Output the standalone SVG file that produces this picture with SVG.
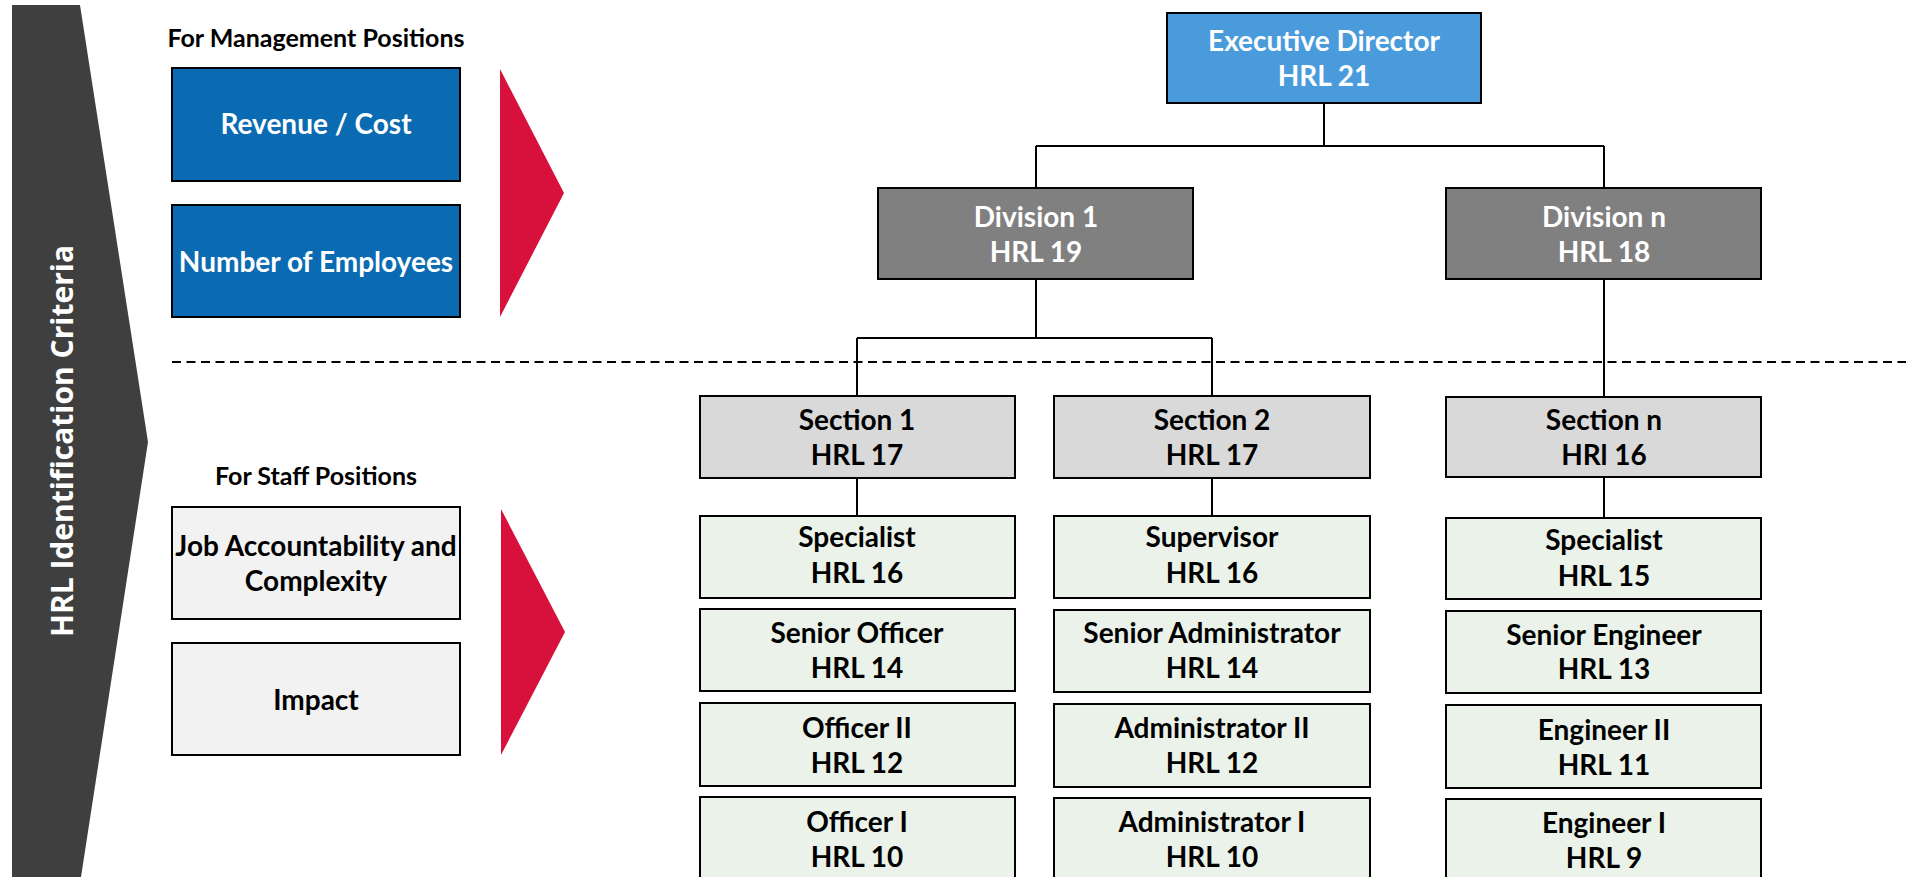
<svg xmlns="http://www.w3.org/2000/svg" width="1906" height="877" viewBox="0 0 1906 877">
  <style>
    .t { font-family: Lato, "Liberation Sans", sans-serif; font-weight: bold; font-size: 28px; text-anchor: middle; }
    .w { fill: #ffffff; }
    .k { fill: #000000; }
    .hd { font-family: Lato, "Liberation Sans", sans-serif; font-weight: bold; font-size: 25px; text-anchor: middle; fill: #000000; }
    .box { stroke: #000000; stroke-width: 2; }
    .exec { fill: #4A9BDC; }
    .div { fill: #808080; }
    .sec { fill: #D9D9D9; }
    .staff { fill: #EAF2E9; }
    .crit { fill: #0B6BB2; }
    .crit2 { fill: #F2F2F2; }
    .arrow { fill: #D7103C; }
    .conn { fill: none; stroke: #000000; stroke-width: 2; }
  </style>

  <!-- side band with rotated title -->
  <g id="side-band">
    <polygon points="12,5 80,5 148,442 81,877 12,877" fill="#3F3F3F"/>
    <text transform="translate(73,441) rotate(-90)" font-family="'Open Sans', 'Liberation Sans', sans-serif" font-weight="bold" font-size="30" text-anchor="middle" fill="#ffffff">HRL Identification Criteria</text>
  </g>

  <!-- management criteria -->
  <g id="mgmt-criteria">
    <text class="hd" x="316" y="47">For Management Positions</text>
    <g id="crit-revenue">
      <rect class="box crit" x="172" y="68" width="288" height="113"/>
      <text class="t w" x="316" y="134">Revenue / Cost</text>
    </g>
    <g id="crit-employees">
      <rect class="box crit" x="172" y="205" width="288" height="112"/>
      <text class="t w" x="316" y="272">Number of Employees</text>
    </g>
    <polygon class="arrow" points="500,69 564,193 500,317"/>
  </g>

  <!-- staff criteria -->
  <g id="staff-criteria">
    <text class="hd" x="316" y="485">For Staff Positions</text>
    <g id="crit-job">
      <rect class="box crit2" x="172" y="507" width="288" height="112"/>
      <text class="t k" x="316" y="556">Job Accountability and</text>
      <text class="t k" x="316" y="591">Complexity</text>
    </g>
    <g id="crit-impact">
      <rect class="box crit2" x="172" y="643" width="288" height="112"/>
      <text class="t k" x="316" y="710">Impact</text>
    </g>
    <polygon class="arrow" points="501,509 565,632 501,755"/>
  </g>

  <!-- management / staff divider -->
  <line x1="172" y1="362" x2="1906" y2="362" stroke="#000000" stroke-width="2" stroke-dasharray="9 5.5"/>

  <!-- connectors -->
  <g id="connectors">
    <path class="conn" d="M1324,103 V146 M1036,146 H1604 M1036,146 V188 M1604,146 V188"/>
    <path class="conn" d="M1036,279 V338 M857,338 H1212 M857,338 V396 M1212,338 V396"/>
    <path class="conn" d="M1604,279 V397"/>
    <path class="conn" d="M857,478 V516 M1212,478 V516 M1604,477 V518"/>
  </g>

  <!-- org chart nodes -->
  <g id="exec-director">
    <rect class="box exec" x="1167" y="13" width="314" height="90"/>
    <text class="t w" x="1324" y="51">Executive Director</text>
    <text class="t w" x="1324" y="86">HRL 21</text>
  </g>

  <g id="division-1">
    <rect class="box div" x="878" y="188" width="315" height="91"/>
    <text class="t w" x="1036" y="227">Division 1</text>
    <text class="t w" x="1036" y="262">HRL 19</text>
  </g>
  <g id="division-n">
    <rect class="box div" x="1446" y="188" width="315" height="91"/>
    <text class="t w" x="1604" y="227">Division n</text>
    <text class="t w" x="1604" y="262">HRL 18</text>
  </g>

  <g id="section-1">
    <rect class="box sec" x="700" y="396" width="315" height="82"/>
    <text class="t k" x="857" y="430">Section 1</text>
    <text class="t k" x="857" y="465">HRL 17</text>
  </g>
  <g id="section-2">
    <rect class="box sec" x="1054" y="396" width="316" height="82"/>
    <text class="t k" x="1212" y="430">Section 2</text>
    <text class="t k" x="1212" y="465">HRL 17</text>
  </g>
  <g id="section-n">
    <rect class="box sec" x="1446" y="397" width="315" height="80"/>
    <text class="t k" x="1604" y="430">Section n</text>
    <text class="t k" x="1604" y="465">HRl 16</text>
  </g>

  <!-- section 1 positions -->
  <g id="s1-specialist">
    <rect class="box staff" x="700" y="516" width="315" height="82"/>
    <text class="t k" x="857" y="547">Specialist</text>
    <text class="t k" x="857" y="583">HRL 16</text>
  </g>
  <g id="s1-senior-officer">
    <rect class="box staff" x="700" y="609" width="315" height="82"/>
    <text class="t k" x="857" y="643">Senior Officer</text>
    <text class="t k" x="857" y="678">HRL 14</text>
  </g>
  <g id="s1-officer-2">
    <rect class="box staff" x="700" y="703" width="315" height="83"/>
    <text class="t k" x="857" y="738">Officer II</text>
    <text class="t k" x="857" y="773">HRL 12</text>
  </g>
  <g id="s1-officer-1">
    <rect class="box staff" x="700" y="797" width="315" height="100"/>
    <text class="t k" x="857" y="832">Officer I</text>
    <text class="t k" x="857" y="867">HRL 10</text>
  </g>

  <!-- section 2 positions -->
  <g id="s2-supervisor">
    <rect class="box staff" x="1054" y="516" width="316" height="82"/>
    <text class="t k" x="1212" y="547">Supervisor</text>
    <text class="t k" x="1212" y="583">HRL 16</text>
  </g>
  <g id="s2-senior-admin">
    <rect class="box staff" x="1054" y="610" width="316" height="82"/>
    <text class="t k" x="1212" y="643">Senior Administrator</text>
    <text class="t k" x="1212" y="678">HRL 14</text>
  </g>
  <g id="s2-admin-2">
    <rect class="box staff" x="1054" y="704" width="316" height="83"/>
    <text class="t k" x="1212" y="738">Administrator II</text>
    <text class="t k" x="1212" y="773">HRL 12</text>
  </g>
  <g id="s2-admin-1">
    <rect class="box staff" x="1054" y="798" width="316" height="100"/>
    <text class="t k" x="1212" y="832">Administrator I</text>
    <text class="t k" x="1212" y="867">HRL 10</text>
  </g>

  <!-- section n positions -->
  <g id="sn-specialist">
    <rect class="box staff" x="1446" y="518" width="315" height="81"/>
    <text class="t k" x="1604" y="550">Specialist</text>
    <text class="t k" x="1604" y="586">HRL 15</text>
  </g>
  <g id="sn-senior-engineer">
    <rect class="box staff" x="1446" y="611" width="315" height="82"/>
    <text class="t k" x="1604" y="645">Senior Engineer</text>
    <text class="t k" x="1604" y="679">HRL 13</text>
  </g>
  <g id="sn-engineer-2">
    <rect class="box staff" x="1446" y="705" width="315" height="83"/>
    <text class="t k" x="1604" y="740">Engineer II</text>
    <text class="t k" x="1604" y="775">HRL 11</text>
  </g>
  <g id="sn-engineer-1">
    <rect class="box staff" x="1446" y="799" width="315" height="100"/>
    <text class="t k" x="1604" y="833">Engineer I</text>
    <text class="t k" x="1604" y="868">HRL 9</text>
  </g>
</svg>
